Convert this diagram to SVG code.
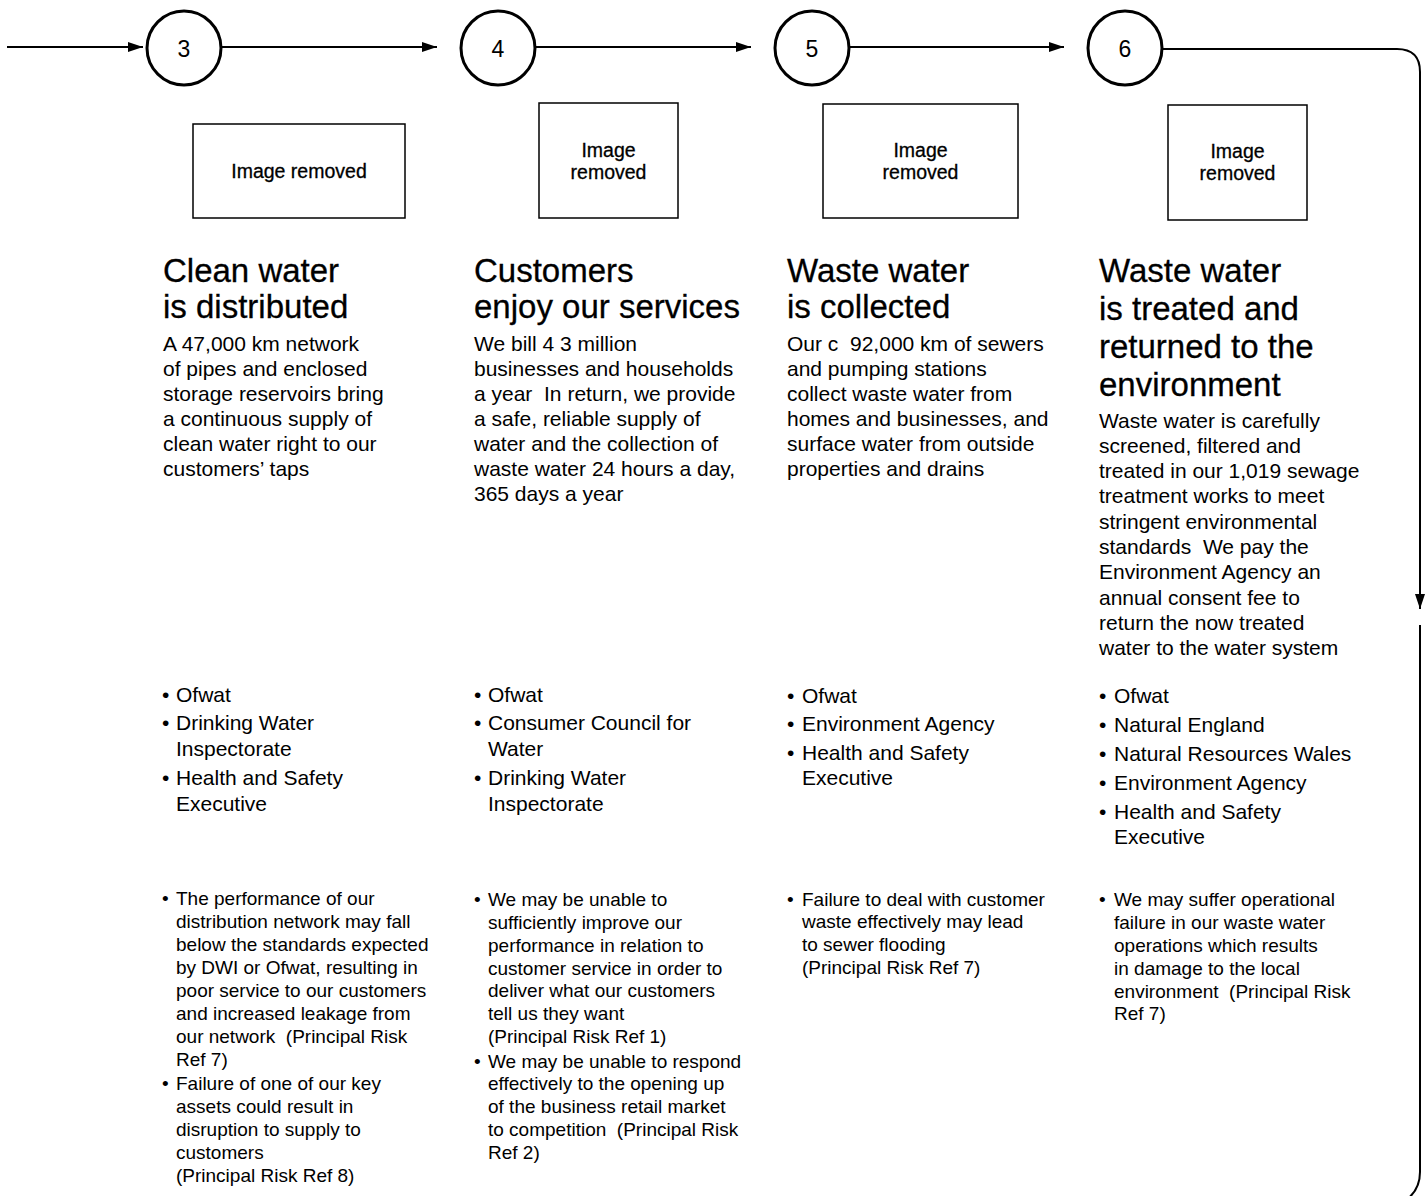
<svg xmlns="http://www.w3.org/2000/svg" width="1428" height="1196" viewBox="0 0 1428 1196" xml:space="preserve">
<defs>
<marker id="ah" viewBox="0 0 15 10" refX="15" refY="5" markerWidth="15" markerHeight="10" markerUnits="userSpaceOnUse" orient="auto">
<path d="M0,0 L15,5 L0,10 Z" fill="#000"/>
</marker>
<style>
text{white-space:pre}
.conn{fill:none;stroke:#000;stroke-width:2}
.step{fill:#fff;stroke:#000;stroke-width:3}
.num{font-family:"Liberation Sans",Arial,sans-serif;font-size:23px;text-anchor:middle;fill:#000}
.img{fill:#fff;stroke:#000;stroke-width:1.5}
.imgt{font-family:"Liberation Sans",Arial,sans-serif;font-size:19.5px;text-anchor:middle;fill:#000;stroke:#000;stroke-width:0.3}
.h{font-family:"Liberation Sans",Arial,sans-serif;font-size:33px;fill:#000;stroke:#000;stroke-width:0.3}
.b{font-family:"Liberation Sans",Arial,sans-serif;font-size:21px;fill:#000}
.r{font-family:"Liberation Sans",Arial,sans-serif;font-size:21px;fill:#000}
.k{font-family:"Liberation Sans",Arial,sans-serif;font-size:19px;fill:#000}
</style>
</defs>
<rect width="1428" height="1196" fill="#fff"/>
<g id="connectors">
<path class="conn" d="M7,47 H143" marker-end="url(#ah)"/>
<path class="conn" d="M222,47 H437" marker-end="url(#ah)"/>
<path class="conn" d="M536,47 H751" marker-end="url(#ah)"/>
<path class="conn" d="M850,47 H1064" marker-end="url(#ah)"/>
<path class="conn" d="M1163,49 H1397 Q1420,49 1420,72 V609" marker-end="url(#ah)"/>
<path class="conn" d="M1420,625 V1172 Q1420,1190 1406,1200"/>
</g>
<g id="step3">
<circle class="step" cx="184" cy="48" r="37"/>
<text class="num" x="184" y="57">3</text>
<rect class="img" x="193" y="124" width="212" height="94"/>
<text class="imgt" x="299" y="178">Image removed</text>
<text class="h" x="163" y="282">Clean water</text>
<text class="h" x="163" y="318">is distributed</text>
<text class="b" x="163" y="351">A 47,000 km network</text>
<text class="b" x="163" y="376">of pipes and enclosed</text>
<text class="b" x="163" y="401">storage reservoirs bring</text>
<text class="b" x="163" y="426">a continuous supply of</text>
<text class="b" x="163" y="451">clean water right to our</text>
<text class="b" x="163" y="476">customers’ taps</text>
<text class="r" x="162" y="702">•</text><text class="r" x="176" y="702">Ofwat</text>
<text class="r" x="162" y="730">•</text><text class="r" x="176" y="730">Drinking Water</text>
<text class="r" x="176" y="756">Inspectorate</text>
<text class="r" x="162" y="785">•</text><text class="r" x="176" y="785">Health and Safety</text>
<text class="r" x="176" y="811">Executive</text>
<text class="k" x="162" y="905">•</text><text class="k" x="176" y="905">The performance of our</text>
<text class="k" x="176" y="928">distribution network may fall</text>
<text class="k" x="176" y="951">below the standards expected</text>
<text class="k" x="176" y="974">by DWI or Ofwat, resulting in</text>
<text class="k" x="176" y="997">poor service to our customers</text>
<text class="k" x="176" y="1020">and increased leakage from</text>
<text class="k" x="176" y="1043">our network  (Principal Risk</text>
<text class="k" x="176" y="1066">Ref 7)</text>
<text class="k" x="162" y="1090">•</text><text class="k" x="176" y="1090">Failure of one of our key</text>
<text class="k" x="176" y="1113">assets could result in</text>
<text class="k" x="176" y="1136">disruption to supply to</text>
<text class="k" x="176" y="1159">customers</text>
<text class="k" x="176" y="1182">(Principal Risk Ref 8)</text>
</g>
<g id="step4">
<circle class="step" cx="498" cy="48" r="37"/>
<text class="num" x="498" y="57">4</text>
<rect class="img" x="539" y="103" width="139" height="115"/>
<text class="imgt" x="608.5" y="157">Image</text>
<text class="imgt" x="608.5" y="179">removed</text>
<text class="h" x="474" y="282">Customers</text>
<text class="h" x="474" y="318">enjoy our services</text>
<text class="b" x="474" y="351">We bill 4 3 million</text>
<text class="b" x="474" y="376">businesses and households</text>
<text class="b" x="474" y="401">a year  In return, we provide</text>
<text class="b" x="474" y="426">a safe, reliable supply of</text>
<text class="b" x="474" y="451">water and the collection of</text>
<text class="b" x="474" y="476">waste water 24 hours a day,</text>
<text class="b" x="474" y="501">365 days a year</text>
<text class="r" x="474" y="702">•</text><text class="r" x="488" y="702">Ofwat</text>
<text class="r" x="474" y="730">•</text><text class="r" x="488" y="730">Consumer Council for</text>
<text class="r" x="488" y="756">Water</text>
<text class="r" x="474" y="785">•</text><text class="r" x="488" y="785">Drinking Water</text>
<text class="r" x="488" y="811">Inspectorate</text>
<text class="k" x="474" y="906">•</text><text class="k" x="488" y="906">We may be unable to</text>
<text class="k" x="488" y="929">sufficiently improve our</text>
<text class="k" x="488" y="952">performance in relation to</text>
<text class="k" x="488" y="975">customer service in order to</text>
<text class="k" x="488" y="997">deliver what our customers</text>
<text class="k" x="488" y="1020">tell us they want</text>
<text class="k" x="488" y="1043">(Principal Risk Ref 1)</text>
<text class="k" x="474" y="1068">•</text><text class="k" x="488" y="1068">We may be unable to respond</text>
<text class="k" x="488" y="1090">effectively to the opening up</text>
<text class="k" x="488" y="1113">of the business retail market</text>
<text class="k" x="488" y="1136">to competition  (Principal Risk</text>
<text class="k" x="488" y="1159">Ref 2)</text>
</g>
<g id="step5">
<circle class="step" cx="812" cy="48" r="37"/>
<text class="num" x="812" y="57">5</text>
<rect class="img" x="823" y="104" width="195" height="114"/>
<text class="imgt" x="920.5" y="157">Image</text>
<text class="imgt" x="920.5" y="179">removed</text>
<text class="h" x="787" y="282">Waste water</text>
<text class="h" x="787" y="318">is collected</text>
<text class="b" x="787" y="351">Our c  92,000 km of sewers</text>
<text class="b" x="787" y="376">and pumping stations</text>
<text class="b" x="787" y="401">collect waste water from</text>
<text class="b" x="787" y="426">homes and businesses, and</text>
<text class="b" x="787" y="451">surface water from outside</text>
<text class="b" x="787" y="476">properties and drains</text>
<text class="r" x="787" y="703">•</text><text class="r" x="802" y="703">Ofwat</text>
<text class="r" x="787" y="731">•</text><text class="r" x="802" y="731">Environment Agency</text>
<text class="r" x="787" y="760">•</text><text class="r" x="802" y="760">Health and Safety</text>
<text class="r" x="802" y="785">Executive</text>
<text class="k" x="787" y="906">•</text><text class="k" x="802" y="906">Failure to deal with customer</text>
<text class="k" x="802" y="928">waste effectively may lead</text>
<text class="k" x="802" y="951">to sewer flooding</text>
<text class="k" x="802" y="974">(Principal Risk Ref 7)</text>
</g>
<g id="step6">
<circle class="step" cx="1125" cy="48" r="37"/>
<text class="num" x="1125" y="57">6</text>
<rect class="img" x="1168" y="105" width="139" height="115"/>
<text class="imgt" x="1237.5" y="158">Image</text>
<text class="imgt" x="1237.5" y="180">removed</text>
<text class="h" x="1099" y="282">Waste water</text>
<text class="h" x="1099" y="320">is treated and</text>
<text class="h" x="1099" y="358">returned to the</text>
<text class="h" x="1099" y="396">environment</text>
<text class="b" x="1099" y="428">Waste water is carefully</text>
<text class="b" x="1099" y="453">screened, filtered and</text>
<text class="b" x="1099" y="478">treated in our 1,019 sewage</text>
<text class="b" x="1099" y="503">treatment works to meet</text>
<text class="b" x="1099" y="529">stringent environmental</text>
<text class="b" x="1099" y="554">standards  We pay the</text>
<text class="b" x="1099" y="579">Environment Agency an</text>
<text class="b" x="1099" y="605">annual consent fee to</text>
<text class="b" x="1099" y="630">return the now treated</text>
<text class="b" x="1099" y="655">water to the water system</text>
<text class="r" x="1099" y="703">•</text><text class="r" x="1114" y="703">Ofwat</text>
<text class="r" x="1099" y="732">•</text><text class="r" x="1114" y="732">Natural England</text>
<text class="r" x="1099" y="761">•</text><text class="r" x="1114" y="761">Natural Resources Wales</text>
<text class="r" x="1099" y="790">•</text><text class="r" x="1114" y="790">Environment Agency</text>
<text class="r" x="1099" y="819">•</text><text class="r" x="1114" y="819">Health and Safety</text>
<text class="r" x="1114" y="844">Executive</text>
<text class="k" x="1099" y="906">•</text><text class="k" x="1114" y="906">We may suffer operational</text>
<text class="k" x="1114" y="929">failure in our waste water</text>
<text class="k" x="1114" y="952">operations which results</text>
<text class="k" x="1114" y="975">in damage to the local</text>
<text class="k" x="1114" y="998">environment  (Principal Risk</text>
<text class="k" x="1114" y="1020">Ref 7)</text>
</g>
</svg>
